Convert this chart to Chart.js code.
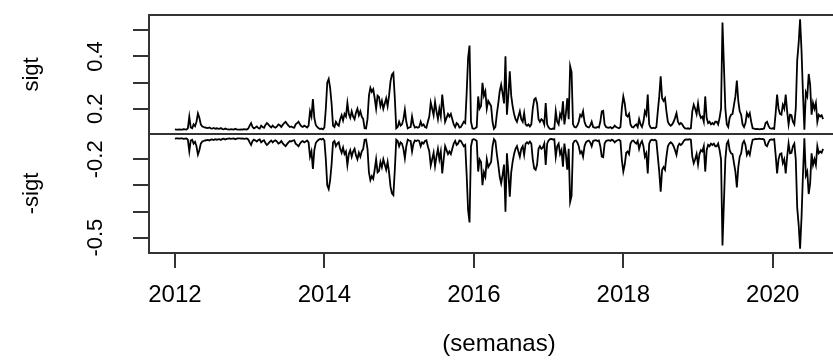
<!DOCTYPE html>
<html>
<head>
<meta charset="utf-8">
<script src="https://cdn.jsdelivr.net/npm/chart.js@4/dist/chart.umd.min.js"></script>
<style>
  html, body { margin: 0; padding: 0; background: #fff; overflow: hidden; }
  #wrap { width: 833px; height: 363px; overflow: hidden; }
  canvas { display: block; }
</style>
</head>
<body>
<div id="wrap"><canvas id="c" width="880" height="363"></canvas></div>
<script>
// ---- data (weekly series, start 2012, 52 obs per year) ----
const weekStart = 2012;
const weeksPerYear = 52;
const sigt = [
  0.121, 0.12, 0.12, 0.121, 0.12, 0.12, 0.122, 0.121, 0.12, 0.125,
  0.17, 0.128, 0.125, 0.14, 0.133, 0.15, 0.182, 0.165, 0.14, 0.132,
  0.13, 0.128, 0.127, 0.126, 0.128, 0.125, 0.124, 0.126, 0.123, 0.125,
  0.124, 0.123, 0.126, 0.122, 0.121, 0.124, 0.122, 0.121, 0.12, 0.122,
  0.121, 0.12, 0.123, 0.121, 0.12, 0.12, 0.121, 0.12, 0.122, 0.121,
  0.12, 0.124, 0.135, 0.145, 0.13, 0.125, 0.128, 0.132, 0.126, 0.124,
  0.135, 0.13, 0.127, 0.138, 0.145, 0.14, 0.133, 0.128, 0.135, 0.13,
  0.127, 0.132, 0.14, 0.137, 0.13, 0.138, 0.145, 0.15, 0.142, 0.135,
  0.13, 0.132, 0.128, 0.127, 0.14, 0.145, 0.15, 0.14, 0.133, 0.13,
  0.135, 0.132, 0.128, 0.135, 0.19, 0.17, 0.237, 0.165, 0.138, 0.13,
  0.125, 0.122, 0.124, 0.121, 0.128, 0.2, 0.3, 0.314, 0.28, 0.22,
  0.135, 0.13, 0.15, 0.14, 0.135, 0.16, 0.175, 0.155, 0.18, 0.17,
  0.222, 0.18, 0.165, 0.19, 0.17, 0.16, 0.185, 0.2, 0.175, 0.19,
  0.17, 0.16, 0.125, 0.124, 0.16, 0.25, 0.28, 0.265, 0.275, 0.24,
  0.2, 0.25, 0.245, 0.21, 0.23, 0.2, 0.22, 0.24, 0.21, 0.25,
  0.305, 0.33, 0.337, 0.241, 0.125, 0.13, 0.15, 0.135, 0.14, 0.16,
  0.196, 0.15, 0.125, 0.128, 0.13, 0.17, 0.14, 0.128, 0.13, 0.127,
  0.13, 0.15, 0.135, 0.14, 0.13, 0.127, 0.15, 0.17, 0.224, 0.2,
  0.175, 0.226, 0.19, 0.16, 0.2, 0.17, 0.254, 0.2, 0.15, 0.165,
  0.18, 0.17, 0.18, 0.16, 0.14, 0.13, 0.145, 0.14, 0.128, 0.13,
  0.14, 0.15, 0.145, 0.26, 0.395, 0.442, 0.15, 0.125, 0.123, 0.125,
  0.13, 0.247, 0.2, 0.21, 0.299, 0.25, 0.267, 0.2, 0.23, 0.22,
  0.21, 0.15, 0.123, 0.13, 0.18, 0.22, 0.267, 0.292, 0.26, 0.22,
  0.401, 0.177, 0.25, 0.343, 0.25, 0.209, 0.18, 0.16, 0.15, 0.17,
  0.19, 0.16, 0.15, 0.183, 0.14, 0.135, 0.14, 0.132, 0.14, 0.2,
  0.235, 0.24, 0.22, 0.16, 0.15, 0.16, 0.155, 0.14, 0.222, 0.14,
  0.128, 0.123, 0.122, 0.124, 0.123, 0.19, 0.15, 0.14, 0.18, 0.165,
  0.228, 0.14, 0.18, 0.24, 0.16, 0.363, 0.34, 0.14, 0.13, 0.128,
  0.135, 0.15, 0.177, 0.17, 0.19, 0.15, 0.135, 0.13, 0.128, 0.135,
  0.15, 0.13, 0.128, 0.127, 0.13, 0.128, 0.15, 0.19, 0.192, 0.14,
  0.13, 0.128, 0.127, 0.13, 0.125, 0.128, 0.135, 0.13, 0.127, 0.125,
  0.13, 0.203, 0.247, 0.22, 0.175, 0.17, 0.18, 0.14, 0.13, 0.128,
  0.135, 0.14, 0.13, 0.16, 0.14, 0.13, 0.15, 0.19, 0.177, 0.254,
  0.14, 0.128, 0.125, 0.127, 0.125, 0.13, 0.19, 0.247, 0.324, 0.24,
  0.23, 0.24, 0.19, 0.15, 0.14, 0.135, 0.14, 0.15, 0.165, 0.183,
  0.15, 0.14, 0.145, 0.14, 0.13, 0.125, 0.124, 0.125, 0.123, 0.125,
  0.19, 0.215, 0.2, 0.18, 0.22, 0.18, 0.165, 0.17, 0.15, 0.247,
  0.165, 0.145, 0.15, 0.14, 0.145, 0.14, 0.15, 0.15, 0.14, 0.165,
  0.2, 0.53, 0.365, 0.2, 0.14, 0.13, 0.165, 0.177, 0.18, 0.215,
  0.247, 0.308, 0.23, 0.19, 0.177, 0.14, 0.13, 0.145, 0.183, 0.17,
  0.183, 0.15, 0.125, 0.124, 0.122, 0.123, 0.122, 0.121, 0.123, 0.122,
  0.125, 0.145, 0.15, 0.135, 0.125, 0.124, 0.125, 0.123, 0.183, 0.254,
  0.2, 0.18, 0.177, 0.215, 0.2, 0.254, 0.19, 0.14, 0.177, 0.175,
  0.15, 0.14, 0.2, 0.385, 0.45, 0.542, 0.423, 0.258, 0.12, 0.262,
  0.247, 0.333, 0.292, 0.177, 0.222, 0.2, 0.222, 0.15, 0.177, 0.17,
  0.175, 0.16
];
const xTicks = [2012, 2014, 2016, 2018, 2020];
const topTicks = [0.2, 0.3, 0.4, 0.5];
const topTickLabels = ['0.2', '', '0.4', ''];
const bottomTicks = [-0.5, -0.4, -0.3, -0.2];
const bottomTickLabels = ['-0.5', '', '', '-0.2'];
const seriesNames = ['sigt', '-sigt'];
const xTitle = '(semanas)';

// ---- derived tables ----
const times = sigt.map((v, i) => weekStart + i / weeksPerYear);
const negSigt = sigt.map(v => -v);
function ext(arr) {
  const lo = Math.min(...arr), hi = Math.max(...arr);
  const p = 0.04 * (hi - lo);
  return [lo - p, hi + p];
}
const [yTopMin, yTopMax] = ext(sigt);
const [yBotMin, yBotMax] = ext(negSigt);
const [xMin, xMax] = ext(times);

const FONT = '"Liberation Sans", Arial, sans-serif';
const INK = '#000';
const AX = '#333';

const boxPlugin = {
  id: 'rbox',
  afterDatasetsDraw(chart) {
    const {ctx, chartArea: {left, top, right, bottom}} = chart;
    const yt = chart.scales.y;
    ctx.save();
    ctx.strokeStyle = AX;
    ctx.lineWidth = 2;
    ctx.strokeRect(left, top, right - left, bottom - top);
    ctx.beginPath();
    ctx.moveTo(left, yt.bottom);
    ctx.lineTo(right, yt.bottom);
    ctx.stroke();
    ctx.restore();
  }
};

function yScale(min, max, ticks, labels, title, weight, pad) {
  return {
    type: 'linear',
    position: 'left',
    stack: 'panels',
    stackWeight: 1,
    weight: weight,
    min: min,
    max: max,
    afterBuildTicks: s => { s.ticks = ticks.map(v => ({value: v})); },
    afterFit: s => { s.width = 149; s.paddingTop = 0; s.paddingBottom = 0; },
    grid: { display: true, drawOnChartArea: false, drawTicks: true, tickLength: 16, color: AX, lineWidth: 2 },
    border: { display: false },
    ticks: {
      autoSkip: false,
      minRotation: 90, maxRotation: 90,
      crossAlign: 'center',
      padding: pad,
      color: INK,
      font: { family: FONT, size: 22 },
      callback: (v, i) => labels[i]
    },
    title: {
      display: true, text: title, color: INK,
      font: { family: FONT, size: 22 },
      padding: { top: 19, bottom: 0 }
    }
  };
}

new Chart(document.getElementById('c'), {
  type: 'line',
  data: {
    datasets: [
      { label: seriesNames[0], data: sigt.map((v, i) => ({x: times[i], y: v})), yAxisID: 'y', xAxisID: 'x',
        borderColor: '#000', borderWidth: 1.8, pointRadius: 0, tension: 0, fill: false },
      { label: seriesNames[1], data: negSigt.map((v, i) => ({x: times[i], y: v})), yAxisID: 'y2', xAxisID: 'x',
        borderColor: '#000', borderWidth: 1.8, pointRadius: 0, tension: 0, fill: false }
    ]
  },
  options: {
    responsive: false,
    animation: false,
    devicePixelRatio: 1,
    layout: { padding: { top: 15, right: 31, bottom: 0, left: 0 } },
    plugins: { legend: { display: false }, tooltip: { enabled: false } },
    scales: {
      x: {
        type: 'linear',
        position: 'bottom',
        min: xMin, max: xMax,
        afterBuildTicks: s => { s.ticks = xTicks.map(v => ({value: v})); },
        afterFit: s => { s.height = 110; s.paddingLeft = 0; s.paddingRight = 0; },
        grid: { display: true, drawOnChartArea: false, drawTicks: true, tickLength: 15, color: AX, lineWidth: 2 },
        border: { display: false },
        ticks: {
          autoSkip: false, maxRotation: 0, minRotation: 0, padding: 13,
          color: INK, font: { family: FONT, size: 24 },
          callback: v => String(v)
        },
        title: {
          display: true, text: xTitle, color: INK,
          font: { family: FONT, size: 24 },
          padding: { top: 0, bottom: 4 }
        }
      },
      y: yScale(yTopMin, yTopMax, topTicks, topTickLabels, seriesNames[0], 1, 22),
      y2: yScale(yBotMin, yBotMax, bottomTicks, bottomTickLabels, seriesNames[1], 0, 18)
    }
  },
  plugins: [boxPlugin]
});
</script>
</body>
</html>
